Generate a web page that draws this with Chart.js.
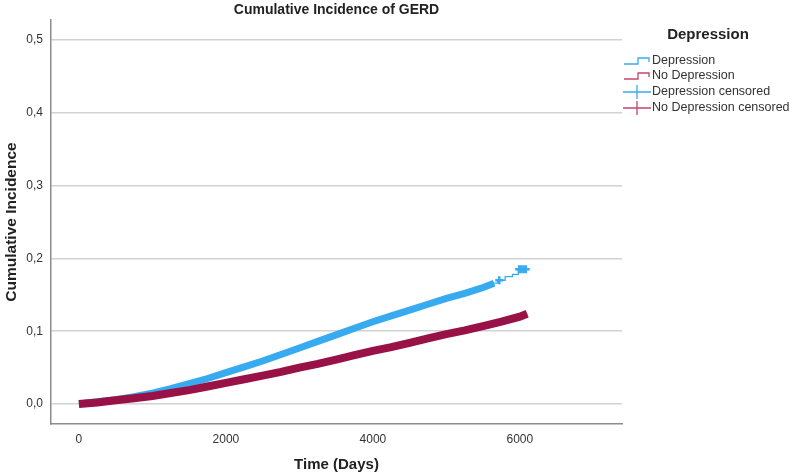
<!DOCTYPE html>
<html>
<head>
<meta charset="utf-8">
<script src="https://cdn.jsdelivr.net/npm/chart.js@4/dist/chart.umd.min.js"></script>
<style>
  html, body { margin: 0; padding: 0; background: #fff; }
  #wrap { width: 794px; height: 476px; }
</style>
</head>
<body>
<div id="wrap"><canvas id="chart" width="794" height="476"></canvas></div>
<script>
// values
const depDays = [0, 250, 500, 750, 1000, 1250, 1500, 1750, 2000, 2250, 2500, 2750, 3000, 3250, 3500, 3750, 4000, 4250, 4500, 4750, 5000, 5250, 5500, 5650, 5700, 5800, 5900, 5980, 6080]
const depValues = [0, 0.003, 0.006, 0.010, 0.015, 0.021, 0.028, 0.035, 0.043, 0.051, 0.059, 0.068, 0.077, 0.086, 0.095, 0.104, 0.113, 0.121, 0.129, 0.137, 0.145, 0.152, 0.160, 0.166, 0.170, 0.175, 0.178, 0.185, 0.185]
const depDenseCount = 24 // censor marks so dense up to ~5650 days they form a band
const depCensTailDays = [5720, 5990, 6020, 6050, 6080]
const depCensTailValues = [0.170, 0.185, 0.185, 0.185, 0.185]

const noDepDays = [0, 250, 500, 750, 1000, 1250, 1500, 1750, 2000, 2250, 2500, 2750, 3000, 3250, 3500, 3750, 4000, 4250, 4500, 4750, 5000, 5250, 5500, 5750, 6000, 6100]
const noDepValues = [0, 0.002, 0.005, 0.008, 0.011, 0.015, 0.019, 0.024, 0.029, 0.034, 0.039, 0.044, 0.050, 0.055, 0.061, 0.067, 0.073, 0.078, 0.084, 0.090, 0.096, 0.101, 0.107, 0.113, 0.120, 0.124]

const xTicks = [0, 2000, 4000, 6000]
const yTicks = ['0,0', '0,1', '0,2', '0,3', '0,4', '0,5']

const blue = 'rgb(55, 170, 240)'
const red = 'rgb(152, 18, 72)'
const redLight = 'rgb(196, 70, 110)'
const font = '"Liberation Sans", Arial, sans-serif'

const pts = (xs, ys) => xs.map((x, i) => ({ x: x, y: ys[i] }))

const depPts = pts(depDays, depValues)
const noDepPts = pts(noDepDays, noDepValues)

// legend + title drawn by hand, SPSS style
const sideLegend = {
    id: 'sideLegend',
    afterDraw(chart) {
        const ctx = chart.ctx
        const area = chart.chartArea
        ctx.save()
        ctx.fillStyle = '#222'
        ctx.textAlign = 'center'
        ctx.textBaseline = 'middle'
        ctx.font = 'bold 14px ' + font
        ctx.fillText('Cumulative Incidence of GERD', (area.left + area.right) / 2, 10)

        ctx.font = 'bold 15px ' + font
        ctx.fillText('Depression', 708, 35)

        const items = [
            { label: 'Depression', color: blue, kind: 'step', y: 61 },
            { label: 'No Depression', color: redLight, kind: 'step', y: 76 },
            { label: 'Depression censored', color: blue, kind: 'cross', y: 92 },
            { label: 'No Depression censored', color: redLight, kind: 'cross', y: 108 }
        ]
        ctx.font = '12.5px ' + font
        ctx.textAlign = 'left'
        items.forEach(it => {
            ctx.strokeStyle = it.color
            ctx.lineWidth = 1.3
            ctx.beginPath()
            if (it.kind === 'step') {
                ctx.moveTo(624, it.y + 3)
                ctx.lineTo(638, it.y + 3)
                ctx.lineTo(638, it.y - 3)
                ctx.lineTo(649, it.y - 3)
                ctx.lineTo(649, it.y + 1)
            } else {
                ctx.moveTo(623, it.y)
                ctx.lineTo(651, it.y)
                ctx.moveTo(637, it.y - 7)
                ctx.lineTo(637, it.y + 7)
            }
            ctx.stroke()
            ctx.fillStyle = '#333'
            ctx.fillText(it.label, 652, it.y)
        })
        ctx.restore()
    }
}

const ctx = document.getElementById('chart').getContext('2d')
new Chart(ctx, {
    type: 'scatter',
    data: {
        datasets: [
            {
                label: 'No Depression censored',
                data: noDepPts,
                showLine: true,
                borderColor: red,
                borderWidth: 8,
                pointRadius: 0,
                order: 0
            },
            {
                label: 'Depression censored',
                data: depPts.slice(0, depDenseCount),
                showLine: true,
                borderColor: blue,
                borderWidth: 7,
                pointRadius: 0,
                order: 1
            },
            {
                label: 'Depression censored tail',
                data: pts(depCensTailDays, depCensTailValues),
                showLine: false,
                pointStyle: 'cross',
                pointRadius: 4,
                borderWidth: 2.5,
                borderColor: blue,
                order: 1
            },
            {
                // only the tail is visible outside the censor band
                label: 'Depression',
                data: depPts.slice(depDenseCount - 1),
                showLine: true,
                stepped: true,
                borderColor: blue,
                borderWidth: 1.3,
                pointRadius: 0,
                order: 2
            },
            {
                label: 'No Depression',
                data: noDepPts,
                showLine: true,
                borderColor: red,
                borderWidth: 1.3,
                pointRadius: 0,
                order: 3
            }
        ]
    },
    options: {
        responsive: false,
        animation: false,
        layout: { padding: { top: 20, right: 172, left: 0, bottom: 0 } },
        plugins: {
            legend: { display: false },
            tooltip: { enabled: false },
            title: { display: false }
        },
        scales: {
            x: {
                type: 'linear',
                min: -380,
                max: 7390,
                afterFit: s => { s.height = 52 },
                afterBuildTicks: s => { s.ticks = xTicks.map(v => ({ value: v })) },
                grid: { display: false, drawTicks: false },
                border: { display: true, color: '#8c8c8c', width: 1.5 },
                ticks: {
                    padding: 8,
                    color: '#333',
                    font: { family: font, size: 12 },
                    callback: v => String(v)
                },
                title: {
                    display: true,
                    text: 'Time (Days)',
                    color: '#222',
                    padding: { top: 8, bottom: 2 },
                    font: { family: font, size: 15, weight: 'bold' }
                }
            },
            y: {
                min: -0.0275,
                max: 0.5275,
                afterFit: s => { s.width = 51 },
                afterBuildTicks: s => { s.ticks = yTicks.map((t, i) => ({ value: i / 10 })) },
                grid: { color: '#d2d2d2', lineWidth: 1.5, drawTicks: false },
                border: { display: true, color: '#8c8c8c', width: 1.5 },
                ticks: {
                    padding: 8,
                    color: '#333',
                    font: { family: font, size: 12 },
                    callback: (v, i) => yTicks[i]
                },
                title: {
                    display: true,
                    text: 'Cumulative Incidence',
                    color: '#222',
                    padding: { top: 2, bottom: 2 },
                    font: { family: font, size: 15.5, weight: 'bold' }
                }
            }
        }
    },
    plugins: [sideLegend]
})
</script>
</body>
</html>
